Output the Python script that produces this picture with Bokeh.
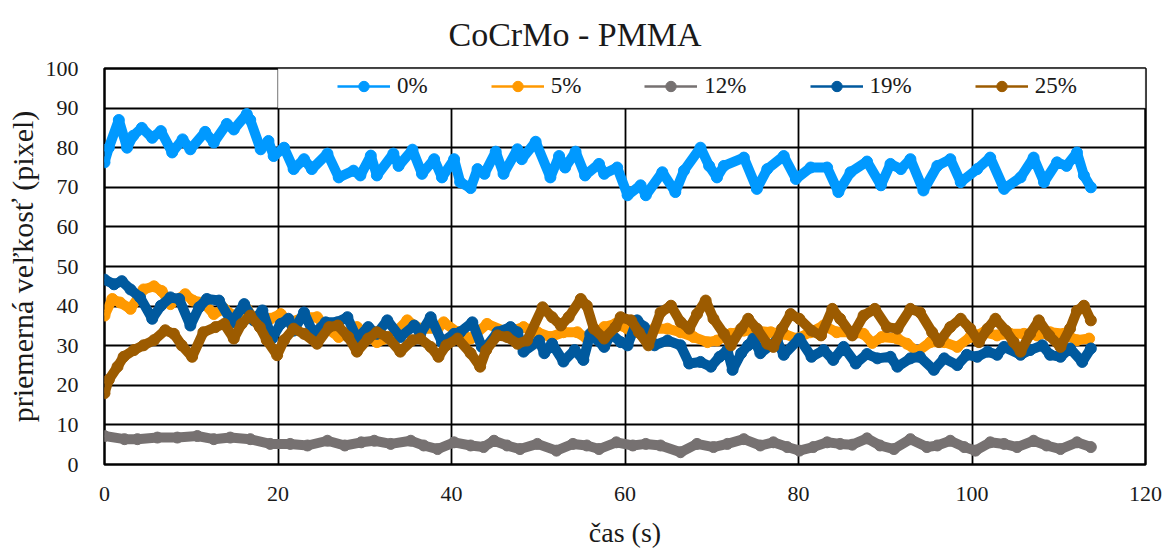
from bokeh.plotting import figure
from bokeh.models import Legend, LegendItem, FixedTicker, BoxAnnotation, Range1d
from bokeh.embed import file_html
from bokeh.resources import INLINE

series_names = ["0%", "5%", "12%", "19%", "25%"]
colors = ["#0099FF", "#FF9900", "#767171", "#00599E", "#9C5B00"]

x_ticks = [0, 20, 40, 60, 80, 100, 120]
y_ticks = [0, 10, 20, 30, 40, 50, 60, 70, 80, 90, 100]

t_0 = [0, 0.5, 1.65, 2.6, 3.3, 4.3, 5.5, 6.5, 7.8, 9.0, 9.9, 11.6, 12.6, 14.1, 14.9, 16.4, 16.8,
       18.0, 18.9, 19.5, 20.7, 21.8, 23.0, 23.9, 25.7, 27.0, 28.7, 29.5, 30.7, 31.4, 33.3, 33.9,
       35.5, 36.6, 38.0, 38.9, 40.3, 41.0, 42.2, 43.0, 43.8, 45.1, 46.0, 47.6, 48.1, 49.7, 51.4,
       52.4, 53.1, 54.3, 55.4, 57.0, 57.6, 59.1, 60.3, 61.8, 62.4, 64.3, 65.8, 66.8, 68.7, 69.7,
       70.6, 71.4, 73.7, 75.2, 76.4, 78.3, 79.7, 81.4, 83.3, 84.6, 86.0, 87.9, 89.5, 90.6, 91.8,
       92.9, 94.4, 96.0, 97.5, 98.7, 100.6, 102.1, 103.7, 105.6, 107.1, 108.3, 109.8, 110.9,
       112.1, 112.9, 113.7]
v_0 = [76.3, 80.0, 87.0, 80.0, 83.0, 85.0, 82.5, 84.2, 78.8, 82.1, 79.6, 84.0, 81.3, 86.0, 84.6,
       88.5, 87.0, 79.6, 81.7, 77.9, 80.0, 74.6, 77.1, 74.6, 78.5, 72.5, 74.2, 73.0, 78.0, 73.0,
       78.5, 75.4, 79.5, 73.4, 77.1, 72.5, 77.1, 71.3, 69.8, 74.6, 73.4, 79.0, 73.4, 79.6, 77.1,
       81.5, 72.5, 77.9, 75.0, 79.0, 73.0, 75.9, 73.4, 75.0, 68.0, 70.5, 68.0, 73.8, 68.8, 74.2,
       80.0, 75.4, 72.5, 75.4, 77.5, 69.6, 74.6, 77.9, 72.1, 75.0, 75.0, 68.8, 73.8, 76.5, 70.5,
       75.9, 74.6, 77.1, 69.2, 75.4, 77.1, 71.3, 74.6, 77.5, 69.6, 72.5, 77.5, 71.3, 76.3, 75.4,
       78.8, 73.0, 70.0]

t_5 = [0, 0.9, 1.8, 3.0, 4.5, 5.7, 6.6, 7.6, 9.3, 10.2, 11.4, 12.6, 13.8, 14.9, 16.4, 17.6, 19.1,
       20.3, 21.4, 23.0, 24.5, 25.7, 27.0, 29.1, 31.4, 33.0, 34.9, 36.4, 38.4, 39.1, 40.7, 42.2,
       44.1, 46.4, 48.3, 49.9, 51.4, 52.9, 54.5, 55.6, 57.6, 58.9, 60.3, 61.8, 63.4, 64.9, 66.4,
       67.9, 69.5, 70.6, 72.2, 73.7, 75.2, 76.8, 78.3, 79.8, 81.4, 82.9, 84.4, 86.0, 87.5, 88.5,
       89.6, 91.4, 92.5, 93.7, 95.2, 96.8, 98.3, 99.8, 101.4, 102.9, 104.4, 106.0, 107.5, 109.0,
       110.6, 112.1, 113.5]
v_5 = [37.6, 41.8, 40.9, 39.3, 44.2, 45.0, 43.8, 40.5, 43.0, 41.4, 40.9, 38.0, 39.3, 37.6, 39.3,
       35.9, 36.8, 38.0, 35.9, 37.2, 37.2, 34.3, 32.2, 34.7, 30.9, 32.2, 36.4, 34.3, 34.3, 35.9,
       33.4, 31.8, 35.5, 33.4, 34.7, 33.4, 32.2, 33.4, 33.4, 31.8, 34.7, 35.5, 34.3, 33.0, 34.3,
       34.3, 33.4, 32.2, 30.9, 31.3, 33.0, 33.8, 33.8, 33.4, 33.0, 31.8, 33.4, 35.1, 33.4, 33.4,
       33.0, 30.7, 32.2, 31.8, 30.5, 28.5, 30.9, 30.9, 29.7, 32.2, 33.4, 32.6, 33.0, 33.0, 32.6,
       33.4, 33.0, 31.4, 31.8]

t_12 = [0, 2.3, 3.8, 6.1, 8.4, 10.7, 12.6, 14.5, 16.8, 19.1, 21.4, 23.4, 25.7, 27.7, 29.6, 31.1,
        33.0, 35.3, 36.8, 38.4, 40.3, 42.2, 43.7, 44.9, 46.4, 47.9, 49.9, 52.1, 54.0, 55.6, 57.0,
        59.0, 60.9, 62.4, 64.1, 66.4, 68.3, 70.2, 71.8, 73.7, 75.6, 77.1, 78.7, 80.1, 81.7, 83.3,
        84.8, 86.2, 87.9, 89.4, 91.0, 92.9, 94.8, 96.0, 97.5, 99.1, 100.4, 102.1, 103.7, 105.2,
        107.1, 108.6, 110.2, 112.1, 113.7]
v_12 = [7.2, 6.4, 6.4, 6.8, 6.8, 7.2, 6.4, 6.8, 6.4, 5.2, 5.2, 4.8, 6.0, 4.8, 5.6, 6.0, 5.2, 6.0,
        4.8, 3.9, 5.6, 4.8, 4.4, 6.0, 4.8, 3.9, 5.2, 3.5, 5.2, 4.8, 3.9, 5.6, 4.8, 5.2, 4.8, 3.1,
        5.2, 4.4, 5.2, 6.4, 4.8, 5.6, 4.4, 3.5, 4.4, 5.6, 5.2, 5.0, 6.6, 4.8, 3.9, 6.4, 4.4, 4.8,
        6.0, 4.4, 3.5, 5.6, 5.2, 4.4, 6.0, 4.8, 3.9, 5.6, 4.4]

t_19 = [0, 1.1, 2.0, 3.0, 4.1, 5.5, 6.5, 7.6, 8.6, 9.9, 10.9, 11.8, 13.2, 14.7, 16.1, 17.2, 18.2,
        19.3, 20.3, 21.2, 21.8, 23.0, 24.1, 25.5, 26.8, 28.0, 29.1, 30.4, 31.4, 32.6, 34.1, 35.7,
        36.4, 37.6, 38.9, 40.3, 41.0, 42.4, 43.5, 44.0, 45.3, 46.8, 47.6, 48.3, 50.1, 50.7, 51.6,
        52.9, 54.2, 55.2, 56.0, 57.6, 58.4, 59.5, 60.3, 61.4, 62.2, 63.4, 64.9, 66.4, 67.4, 68.7,
        69.9, 70.9, 71.8, 72.4, 73.4, 74.2, 74.8, 75.6, 76.8, 77.5, 78.3, 80.1, 81.5, 82.9, 84.0,
        85.2, 86.6, 87.9, 89.1, 90.6, 91.4, 92.9, 94.0, 95.6, 96.8, 98.3, 99.4, 100.6, 101.8,
        102.9, 103.7, 105.6, 106.7, 108.1, 109.0, 110.2, 111.3, 112.7, 113.7]
v_19 = [46.7, 45.5, 46.3, 44.2, 42.2, 36.8, 40.1, 42.2, 41.8, 35.1, 39.7, 41.8, 41.4, 35.9, 40.5,
        36.4, 38.9, 31.8, 35.5, 36.8, 33.8, 38.4, 33.0, 35.9, 35.9, 37.2, 31.8, 34.7, 33.0, 36.4,
        32.2, 35.1, 33.0, 37.2, 30.9, 33.0, 33.4, 35.9, 29.7, 29.7, 33.4, 34.7, 33.4, 28.5, 31.3,
        28.1, 30.5, 26.0, 28.9, 26.4, 33.0, 29.7, 33.0, 30.9, 30.1, 36.4, 34.7, 30.1, 31.3, 30.1,
        25.5, 25.9, 24.7, 27.2, 28.9, 23.9, 28.1, 30.1, 31.8, 28.1, 30.1, 31.3, 27.7, 31.8, 27.2,
        28.9, 26.4, 29.7, 25.5, 27.9, 26.8, 27.2, 24.7, 26.8, 27.2, 23.9, 26.8, 25.1, 27.7, 27.2,
        28.5, 27.7, 29.7, 27.7, 28.9, 30.1, 27.7, 27.2, 29.3, 25.9, 29.3]

t_25 = [0, 0.5, 1.5, 2.2, 3.4, 4.5, 5.7, 7.0, 8.0, 8.9, 10.1, 11.4, 12.8, 13.8, 14.9, 15.8, 16.8,
        17.9, 18.7, 19.9, 20.7, 21.8, 23.0, 24.5, 25.9, 26.9, 28.1, 29.1, 30.4, 31.4, 32.6, 34.1,
        35.5, 36.4, 37.6, 38.5, 39.4, 40.7, 42.2, 43.3, 44.0, 45.3, 46.4, 47.6, 48.7, 50.5, 51.6,
        52.6, 53.5, 54.9, 55.6, 56.4, 57.6, 58.9, 59.5, 60.7, 61.6, 62.7, 64.1, 65.3, 66.4, 67.4,
        68.3, 69.3, 70.2, 71.4, 72.2, 73.4, 74.2, 75.2, 76.4, 77.1, 78.1, 79.1, 80.1, 81.5, 82.6,
        83.9, 84.8, 86.2, 87.5, 88.8, 90.2, 91.4, 92.9, 94.0, 95.4, 96.2, 97.5, 98.7, 99.8, 100.8,
        101.8, 102.7, 103.9, 104.8, 105.6, 106.7, 107.7, 108.9, 110.2, 111.3, 112.1, 112.9, 113.7]
v_25 = [18.0, 21.4, 24.7, 27.2, 28.9, 30.1, 31.4, 33.9, 33.0, 30.1, 27.2, 33.4, 34.7, 35.5, 31.8,
        35.5, 37.6, 34.7, 31.4, 27.6, 31.4, 34.3, 33.0, 30.5, 34.7, 35.1, 32.2, 28.5, 31.8, 33.4,
        32.2, 28.5, 31.4, 31.8, 29.7, 27.2, 30.1, 31.8, 28.1, 24.7, 28.9, 32.6, 32.2, 30.5, 31.3,
        39.7, 37.2, 35.1, 37.2, 41.8, 40.1, 34.3, 31.8, 34.7, 37.2, 36.4, 33.4, 30.1, 38.4, 40.1,
        36.0, 34.3, 38.0, 41.4, 36.8, 33.0, 30.1, 34.3, 36.8, 34.3, 30.5, 29.7, 34.3, 38.0, 36.8,
        33.8, 32.6, 39.3, 36.8, 32.6, 37.6, 39.3, 34.7, 34.3, 39.3, 38.4, 33.4, 30.9, 34.7, 36.8,
        34.3, 30.9, 34.3, 36.8, 33.8, 30.9, 28.5, 33.0, 36.4, 32.6, 29.7, 34.3, 38.8, 40.1, 36.4]

series_t = [t_0, t_5, t_12, t_19, t_25]
series_v = [v_0, v_5, v_12, v_19, v_25]

SERIF = "Liberation Serif"
TXT = "#1a1a1a"

p = figure(width=1167, height=550, output_backend="svg", toolbar_location=None,
           x_range=Range1d(0, 120), y_range=Range1d(0, 100),
           min_border_left=104, min_border_right=22, min_border_top=68, min_border_bottom=81)
p.background_fill_color = "white"
p.border_fill_color = "white"
p.outline_line_color = "black"
p.outline_line_width = 2.5

p.title.text = "CoCrMo - PMMA"
p.title.align = "left"
p.title.offset = 344
p.title.standoff = 28
p.title.vertical_align = "top"
p.title.text_font = SERIF
p.title.text_font_size = "34px"
p.title.text_font_style = "normal"
p.title.text_color = TXT

for ax, ticks in ((p.xaxis, x_ticks), (p.yaxis, y_ticks)):
    ax.ticker = FixedTicker(ticks=ticks)
    ax.axis_line_color = None
    ax.major_tick_line_color = None
    ax.minor_tick_line_color = None
    ax.major_label_text_font = SERIF
    ax.major_label_text_font_size = "22px"
    ax.major_label_text_color = TXT
    ax.axis_label_text_font = SERIF
    ax.axis_label_text_font_style = "normal"
    ax.axis_label_text_color = TXT

p.xaxis.axis_label = "čas (s)"
p.yaxis.axis_label = "priemerná veľkosť (pixel)"
p.xaxis.axis_label_text_font_size = "28px"
p.yaxis.axis_label_text_font_size = "30px"
p.xaxis.major_label_standoff = 16
p.xaxis.axis_label_standoff = 13
p.yaxis.major_label_standoff = 20
p.yaxis.axis_label_standoff = 4

p.xgrid.ticker = FixedTicker(ticks=x_ticks)
p.ygrid.ticker = FixedTicker(ticks=y_ticks)
for g in (p.xgrid, p.ygrid):
    g.grid_line_color = "black"
    g.grid_line_width = 1.8

items = []
for name, t, v, c in zip(series_names, series_t, series_v, colors):
    r1 = p.line(t, v, line_color=c, line_width=2.5)
    r2 = p.scatter(t, v, marker="circle", fill_color=c, line_color=c, size=11)
    p.line(t, v, line_color=c, line_width=10, line_join="round", line_cap="round")
    items.append(LegendItem(label=name, renderers=[r1, r2]))

box = BoxAnnotation(left=20, right=120, bottom=90, top=100, fill_color="white", fill_alpha=1,
                    line_color="#7f7f7f", line_width=1.5)
p.add_layout(box)

legend = Legend(items=items, orientation="horizontal", location=(233, 365),
                glyph_width=53, glyph_height=26, label_standoff=7, spacing=63,
                padding=0, margin=0, background_fill_alpha=0, border_line_alpha=0,
                label_text_font=SERIF, label_text_font_size="23px", label_text_color=TXT)
p.add_layout(legend)

open("out.html", "w").write(file_html(p, INLINE))
